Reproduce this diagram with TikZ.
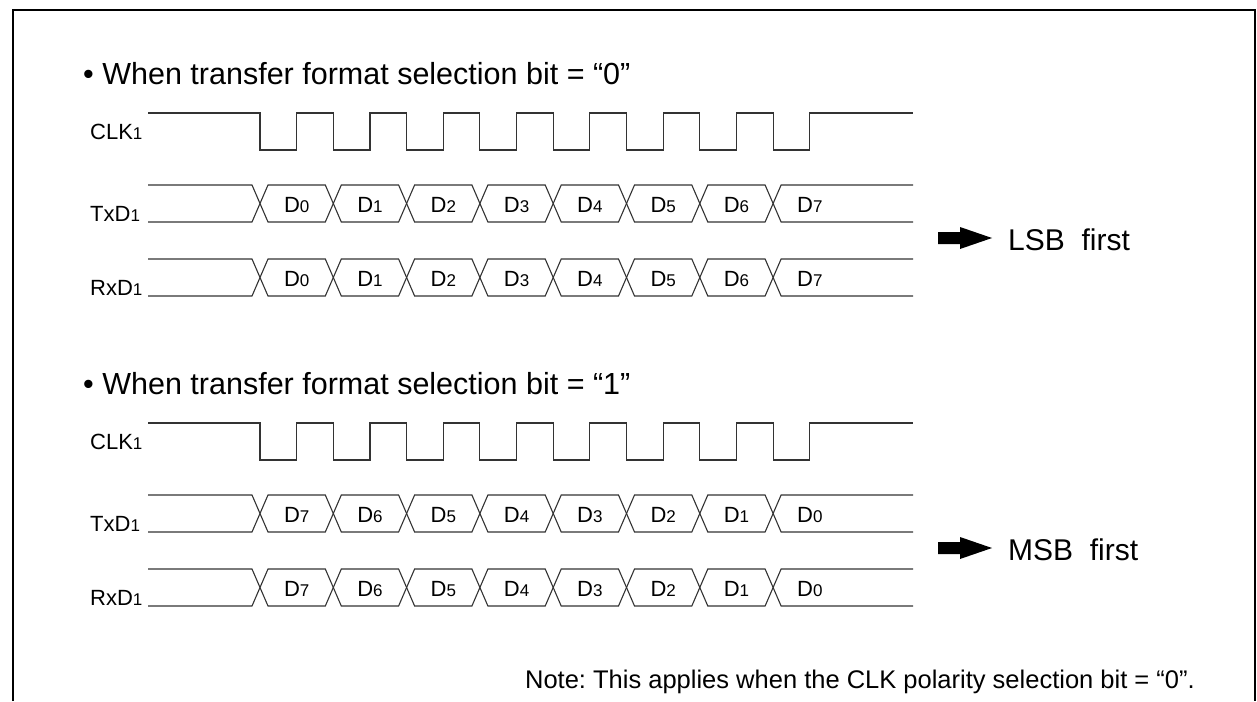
\documentclass[tikz,border=0pt]{standalone}
\usepackage{fontspec}
\setmainfont{Liberation Sans}
\frenchspacing
\newcommand\sdig[1]{{\fontsize{17}{19}\selectfont #1}}
\begin{document}
\begin{tikzpicture}[x=1pt,y=-1pt,
  wave/.style={line width=1.1pt, draw=black!80, line join=miter},
  frame/.style={line width=1.6pt, draw=black},
  hdtext/.style={inner sep=0pt, anchor=base west, font=\fontsize{30.5}{35}\selectfont},
  sigtext/.style={inner sep=0pt, anchor=base west, font=\fontsize{22}{26}\selectfont},
  bittext/.style={inner sep=0pt, anchor=base, font=\fontsize{22}{26}\selectfont},
  ordtext/.style={inner sep=0pt, anchor=base west, font=\fontsize{30}{34}\selectfont},
  notetext/.style={inner sep=0pt, anchor=base east, font=\fontsize{25.5}{30}\selectfont},
  bigarrow/.style={fill=black, draw=none}]
\useasboundingbox (0,0) rectangle (1257,701);
\draw[frame] (13,701) -- (13,10) -- (1255,10) -- (1255,701);

\foreach \oy/\hd/\lst/\word in {0/0/{0,1,2,3,4,5,6,7}/LSB, 310/1/{7,6,5,4,3,2,1,0}/MSB}{
\begin{scope}[shift={(0,\oy)}]
  \node[hdtext] (hd\hd) at (83,84) {\textbullet\ When transfer format selection bit = “\hd”};
  \node[sigtext] (clk\hd) at (90,139) {CLK\sdig{1}};
  \node[sigtext] (txd\hd) at (90,221) {TxD\sdig{1}};
  \node[sigtext] (rxd\hd) at (90,295) {RxD\sdig{1}};
  % clock
  \draw[wave] (148,113) \foreach \k in {0,...,7}{
     -- ({260+73.3*\k},113) -- ({260+73.3*\k},150) -- ({296.7+73.3*\k},150) -- ({296.7+73.3*\k},113) }
     -- (913,113);
  % buses
  \foreach \T/\B/\nm in {185/222/tx, 259/296/rx}{
    \draw[wave] (148,\T) \foreach \k [evaluate=\k as \ya using {\T+(\B-\T)*mod(\k,2)},
                                     evaluate=\k as \yb using {\B-(\B-\T)*mod(\k,2)}] in {0,...,7}{
       -- ({252+73.3*\k},\ya) -- ({268+73.3*\k},\yb) } -- (913,\T);
    \draw[wave] (148,\B) \foreach \k [evaluate=\k as \ya using {\B-(\B-\T)*mod(\k,2)},
                                     evaluate=\k as \yb using {\T+(\B-\T)*mod(\k,2)}] in {0,...,7}{
       -- ({252+73.3*\k},\ya) -- ({268+73.3*\k},\yb) } -- (913,\B);
    \foreach \d [count=\k from 0] in \lst {
      \node[bittext] (\nm\hd-\k) at ({296.7+73.3*\k},{(\T+\B)/2+8.5}) {D\sdig{\d}};
    }
  }
  % arrow and order text
  \fill[bigarrow] (938,232) -- (960,232) -- (960,227) -- (992,238) -- (960,249) -- (960,244) -- (938,244) -- cycle;
  \node[ordtext] (ord\hd) at (1008,250) {\word\ \ first};
\end{scope}
}
\node[notetext] (note) at (1195,688) {Note: This applies when the CLK polarity selection bit = “0”.};
\end{tikzpicture}
\end{document}
